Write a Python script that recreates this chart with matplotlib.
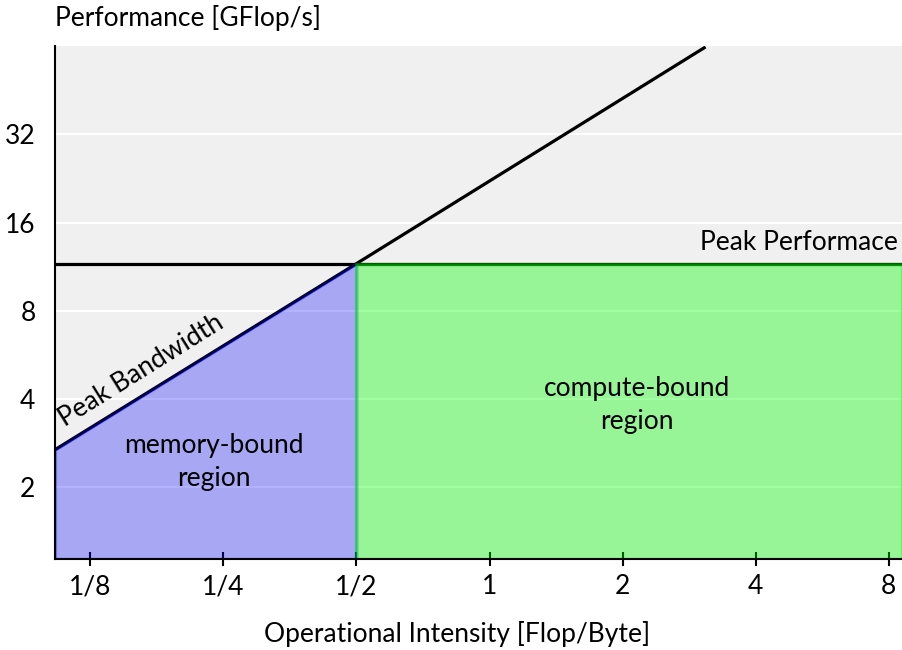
import matplotlib.pyplot as plt
from matplotlib.ticker import FixedLocator, FixedFormatter, NullLocator

# roofline values
x_lim = [0.104, 8.57]
y_lim = [1.14, 64.0]
peak_perf = 11.6
ridge = 0.5
# points along the bandwidth roof
bw_x = [0.104, 0.5, 3.08]
bw_y = [2.69, 11.6, 63.6]

x_ticks = [0.125, 0.25, 0.5, 1, 2, 4, 8]
x_ticklabels = ["1/8", "1/4", "1/2", "1", "2", "4", "8"]
y_ticks = [2, 4, 8, 16, 32]
y_ticklabels = ["2", "4", "8", "16", "32"]

plt.rcParams["font.family"] = ["Lato", "DejaVu Sans"]
FS = 19

fig = plt.figure(figsize=(9.02, 6.5), dpi=100)
ax = fig.add_axes([0.061, 0.14, 0.939, 0.789])
ax.set_facecolor("#f0f0f0")
ax.set_xscale("log", base=2)
ax.set_yscale("log", base=2)
ax.set_xlim(x_lim)
ax.set_ylim(y_lim)

# roofs
ax.plot(bw_x, bw_y, color="black", lw=2.3, zorder=2, solid_capstyle="butt")
ax.plot([x_lim[0], x_lim[1]], [peak_perf, peak_perf], color="black", lw=2.3, zorder=2)

# regions under the roof (drawn translucent over the lines)
ax.fill_between(bw_x[:2], bw_y[:2], y_lim[0], color="blue", alpha=0.3,
                lw=2.3, zorder=3)
ax.fill_between([ridge, x_lim[1]], [peak_perf, peak_perf], y_lim[0],
                color="lime", alpha=0.37, lw=2.3, zorder=3)

ax.yaxis.set_major_locator(FixedLocator(y_ticks))
ax.yaxis.set_major_formatter(FixedFormatter(y_ticklabels))
ax.yaxis.set_minor_locator(NullLocator())
ax.xaxis.set_major_locator(FixedLocator(x_ticks))
ax.xaxis.set_major_formatter(FixedFormatter(x_ticklabels))
ax.xaxis.set_minor_locator(NullLocator())
ax.grid(axis="y", color="white", lw=1.5, zorder=1)
ax.set_axisbelow(True)

for s in ["top", "right"]:
    ax.spines[s].set_visible(False)
for s in ["left", "bottom"]:
    ax.spines[s].set_linewidth(1.5)
    ax.spines[s].set_zorder(5)
ax.tick_params(axis="y", length=0, pad=14, labelsize=FS)
ax.tick_params(axis="x", direction="inout", length=10, width=1.5, pad=6, labelsize=FS)

ax.text(8.4, peak_perf * 1.07, "Peak Performace", ha="right", va="bottom", fontsize=FS)
ax.text(0.163, 5.0, "Peak Bandwidth", ha="center", va="center", rotation=32,
        fontsize=FS, rotation_mode="anchor")
ax.text(0.238, 2.45, "memory-bound\nregion", ha="center", va="center",
        fontsize=FS, linespacing=1.4, zorder=6)
ax.text(2.15, 3.82, "compute-bound\nregion", ha="center", va="center",
        fontsize=FS, linespacing=1.4, zorder=6)

fig.text(0.061, 0.972, "Performance [GFlop/s]", ha="left", va="center", fontsize=FS)
fig.text(0.507, 0.024, "Operational Intensity [Flop/Byte]", ha="center", va="center",
         fontsize=FS)

fig.savefig("out.png", dpi=100)
